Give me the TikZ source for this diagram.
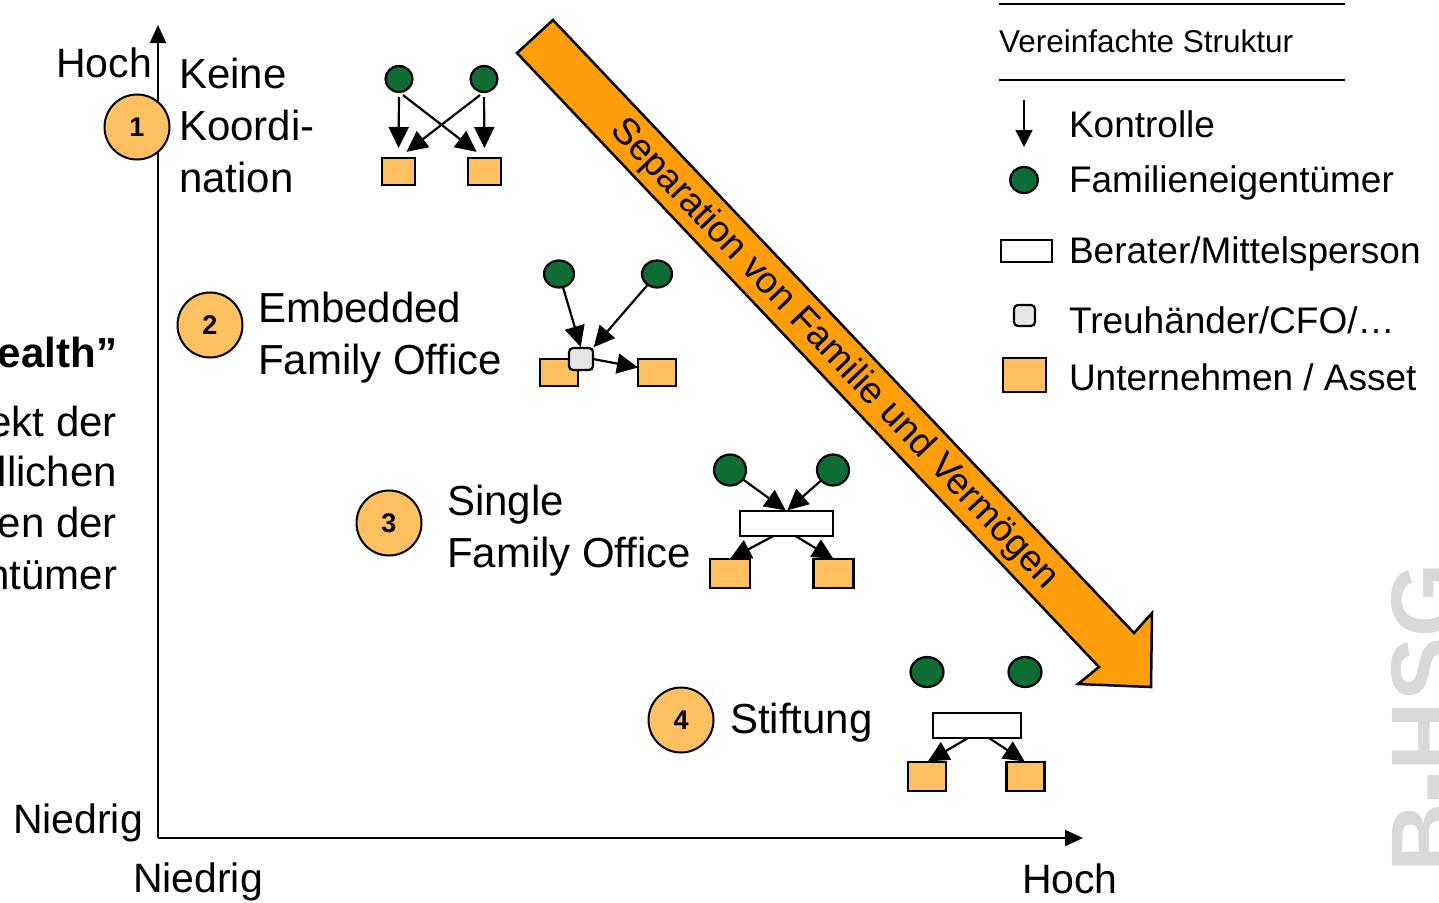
\documentclass[tikz,border=0pt]{standalone}
\usepackage{fontspec}
\setmainfont{Liberation Sans}
\usetikzlibrary{arrows.meta,shapes.geometric}
\definecolor{famgreen}{HTML}{0E6D34}
\definecolor{assetorange}{HTML}{FFC062}
\definecolor{treugray}{HTML}{E6E6E6}
\definecolor{bigorange}{HTML}{FF9D0A}
\definecolor{wmgray}{HTML}{D9D9D9}
\begin{document}
\begin{tikzpicture}[x=1pt,y=-1pt,
  every node/.style={inner sep=0pt, outer sep=0pt},
  fam/.style={ellipse, draw=black, line width=2.2pt, fill=famgreen},
  asset/.style={rectangle, draw=black, line width=2.2pt, fill=assetorange},
  berater/.style={rectangle, draw=black, line width=2.2pt, fill=white},
  treu/.style={rectangle, rounded corners=4pt, draw=black, line width=2.2pt, fill=treugray},
  badge/.style={circle, draw=black, line width=2pt, fill=assetorange, minimum size=65pt, font=\bfseries\fontsize{27}{30}\selectfont},
  ctl/.style={line width=2.2pt, -{Triangle[length=21pt,width=20pt]}},
  axisline/.style={line width=2pt, -{Triangle[length=18pt,width=16pt]}},
  lbl/.style={anchor=base west, font=\fontsize{42}{52}\selectfont},
  leg/.style={anchor=base west, font=\fontsize{37}{44}\selectfont},
  axl/.style={font=\fontsize{41}{48}\selectfont},
  side/.style={anchor=base east, font=\fontsize{42}{50}\selectfont}
]
\useasboundingbox (0,0) rectangle (1439,902);
\begin{scope}
\clip (0,0) rectangle (1439,902);

% watermark
\node[rotate=90, anchor=base east, text=wmgray, font=\bfseries\fontsize{96}{96}\selectfont] (wm) at (1458,563) {B-HSG};

% axes
\coordinate (O) at (158,838);
\coordinate (Ytop) at (158,25);
\coordinate (Xend) at (1083,838);
\draw[axisline] (O) -- (Ytop);
\draw[axisline] (O) -- (Xend);
\node[axl, anchor=base east] (yhi) at (152,77) {Hoch};
\node[axl, anchor=base west] (ylo) at (13,833) {Niedrig};
\node[axl, anchor=base west] (xlo) at (133,892) {Niedrig};
\node[axl, anchor=base west] (xhi) at (1022,893) {Hoch};

% cut-off side text
\node[side, font=\bfseries\fontsize{42}{50}\selectfont] (s0) at (117,367) {ealth”};
\node[side] (s1) at (117,436) {ekt der};
\node[side] (s2) at (117,486) {llichen};
\node[side] (s3) at (117,537) {en der};
\node[side] (s4) at (117,589) {ntümer};

% big arrow
\coordinate (T1) at (553,20);
\coordinate (N1) at (1134,633);
\coordinate (B1) at (1152,613);
\coordinate (P) at (1151,687);
\coordinate (B2) at (1078,684);
\coordinate (N2) at (1099,667);
\coordinate (T2) at (517,53);
\draw[line width=2.5pt, fill=bigorange, line join=miter] (T1) -- (N1) -- (B1) -- (P) -- (B2) -- (N2) -- (T2) -- cycle;
\node[rotate=-46.5, font=\fontsize{37.2}{40}\selectfont] (sep) at (834,354) {Separation von Familie und Vermögen};

% badges
\node[badge] (n1) at (137,127) {1};
\node[badge] (n2) at (210,325) {2};
\node[badge] (n3) at (389,523) {3};
\node[badge] (n4) at (681,720) {4};

% labels
\node[lbl] (l1) at (179,88) {\vtop{\hbox{Keine}\hbox{Koordi-}\hbox{nation}}};
\node[lbl] (l2) at (258,322) {\vtop{\hbox{Embedded}\hbox{Family Office}}};
\node[lbl] (l3) at (447,515) {\vtop{\hbox{Single}\hbox{Family Office}}};
\node[lbl] (l4) at (730,733) {Stiftung};

% structure 1
\node[fam, minimum width=27pt, minimum height=26pt] (c1a) at (399,79) {};
\node[fam, minimum width=27pt, minimum height=26pt] (c1b) at (484,79) {};
\node[asset, minimum width=33pt, minimum height=27pt] (b1a) at (398.5,171.5) {};
\node[asset, minimum width=33pt, minimum height=27pt] (b1b) at (484.5,171.5) {};
\draw[ctl, shorten <=5pt, shorten >=10pt] (c1a.south) -- (b1a.north);
\draw[ctl, shorten <=5pt, shorten >=10pt] (c1a.south) -- (b1b.north);
\draw[ctl, shorten <=5pt, shorten >=10pt] (c1b.south) -- (b1b.north);
\draw[ctl, shorten <=5pt, shorten >=10pt] (c1b.south) -- (b1a.north);

% structure 2
\node[fam, minimum width=30pt, minimum height=27pt] (c2a) at (559,274) {};
\node[fam, minimum width=30pt, minimum height=27pt] (c2b) at (657,274) {};
\node[asset, minimum width=38pt, minimum height=27pt] (b2a) at (559,372.5) {};
\node[asset, minimum width=38pt, minimum height=27pt] (b2b) at (657,372.5) {};
\node[treu, minimum width=24pt, minimum height=22pt] (g2) at (581,359) {};
\draw[ctl, shorten <=1pt, shorten >=1pt] (c2a) -- (g2.north);
\draw[ctl, shorten <=1pt, shorten >=1pt] (c2b) -- (g2.north east);
\draw[ctl, shorten <=1pt] (g2.east) -- ([yshift=5pt]b2b.west);

% structure 3
\node[fam, minimum width=32pt, minimum height=31pt] (c3a) at (730,470) {};
\node[fam, minimum width=32pt, minimum height=31pt] (c3b) at (833,470) {};
\node[berater, minimum width=93pt, minimum height=25pt] (r3) at (786.5,523.5) {};
\node[asset, minimum width=40pt, minimum height=29pt] (b3a) at (730,573.5) {};
\node[asset, minimum width=40pt, minimum height=29pt] (b3b) at (833.5,573.5) {};
\draw[ctl, shorten <=1pt, shorten >=1pt] (c3a) -- (r3.north);
\draw[ctl, shorten <=1pt, shorten >=1pt] (c3b) -- (r3.north);
\draw[ctl, shorten >=0pt] ([xshift=-13pt]r3.south) -- (b3a.north);
\draw[ctl, shorten >=0pt] ([xshift=9pt]r3.south) -- (b3b.north);

% structure 4
\node[fam, minimum width=33pt, minimum height=30pt] (c4a) at (927,672) {};
\node[fam, minimum width=33pt, minimum height=30pt] (c4b) at (1025,672) {};
\node[berater, minimum width=88pt, minimum height=25pt] (r4) at (977,725.5) {};
\node[asset, minimum width=38pt, minimum height=29pt] (b4a) at (927,776.5) {};
\node[asset, minimum width=38pt, minimum height=29pt] (b4b) at (1025.5,776.5) {};
\draw[ctl, shorten >=1pt] ([xshift=-9pt]r4.south) -- (b4a.north);
\draw[ctl, shorten >=1pt] ([xshift=12pt]r4.south) -- (b4b.north);

% legend
\coordinate (L1a) at (999,4);
\coordinate (L1b) at (1345,4);
\coordinate (L2a) at (999,80);
\coordinate (L2b) at (1345,80);
\draw[line width=2pt] (L1a) -- (L1b);
\draw[line width=2pt] (L2a) -- (L2b);
\node[anchor=base west, font=\fontsize{31.5}{38}\selectfont] (legtitle) at (999,52) {Vereinfachte Struktur};
\coordinate (K1) at (1024,100);
\coordinate (K2) at (1024,147);
\draw[line width=1.5pt, -{Triangle[length=17pt,width=17pt]}] (K1) -- (K2);
\node[leg] (lk) at (1069,137) {Kontrolle};
\node[fam, minimum width=28pt, minimum height=26pt] (lc) at (1024,180) {};
\node[leg] (lf) at (1069,192) {Familieneigentümer};
\node[berater, minimum width=51pt, minimum height=22pt] (lr) at (1026.5,251) {};
\node[leg] (lb) at (1069,263) {Berater/Mittelsperson};
\node[treu, minimum width=21pt, minimum height=21pt] (lg) at (1024.5,315.5) {};
\node[leg] (lt) at (1069,333) {Treuhänder/CFO/…};
\node[asset, minimum width=43pt, minimum height=34pt] (la) at (1024.5,375) {};
\node[leg] (lu) at (1069,390) {Unternehmen / Asset};
\end{scope}
\end{tikzpicture}
\end{document}
